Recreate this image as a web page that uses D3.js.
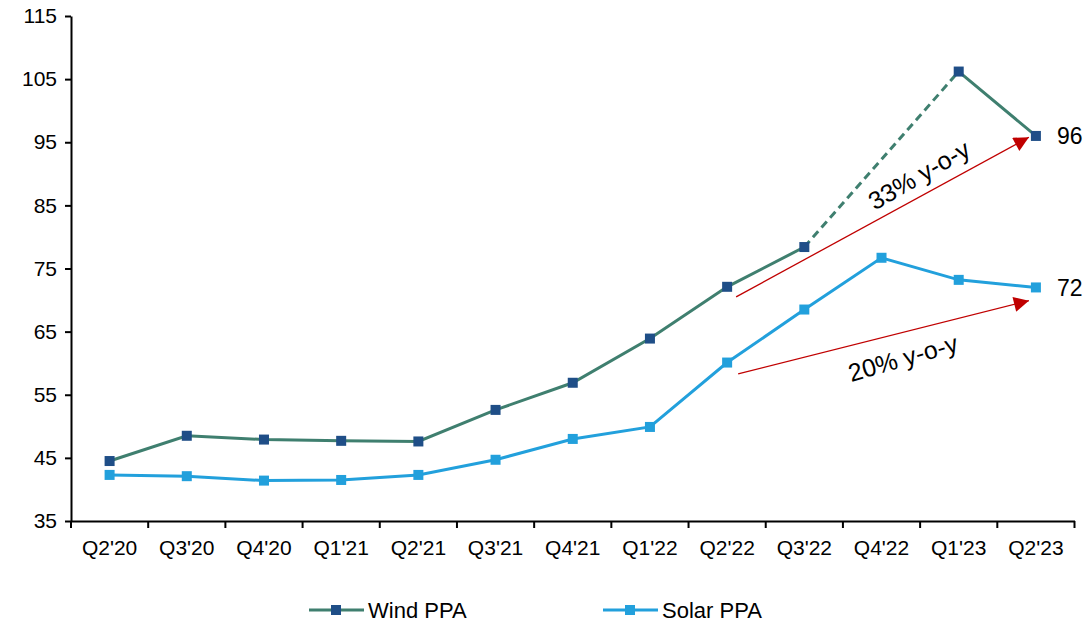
<!DOCTYPE html>
<html>
<head>
<meta charset="utf-8">
<script src="https://cdn.jsdelivr.net/npm/d3@7"></script>
<style>
  html, body { margin: 0; padding: 0; background: #fff; }
  svg { display: block; font-family: "Liberation Sans", Arial, sans-serif; }
</style>
</head>
<body>
<svg id="chart" width="1087" height="626"></svg>
<script>
// Quarterly PPA prices
const quarters = ["Q2'20","Q3'20","Q4'20","Q1'21","Q2'21","Q3'21","Q4'21","Q1'22","Q2'22","Q3'22","Q4'22","Q1'23","Q2'23"];
const windPPA  = [44.5, 48.5, 47.9, 47.7, 47.6, 52.6, 56.9, 63.9, 72.1, 78.4, null, 106.2, 96.0];
const solarPPA = [42.3, 42.1, 41.4, 41.5, 42.3, 44.7, 48.0, 49.9, 60.1, 68.5, 76.7, 73.2, 72.0];
const yTicks = [35, 45, 55, 65, 75, 85, 95, 105, 115];

// Year-on-year growth annotations (value space)
const growthNotes = [
  { label: "33% y-o-y", from: ["Q2'22", 70.5], to: ["Q2'23", 95.8], dxFrom: 9, dxTo: -7, text: [919, 175], angle: -30 },
  { label: "20% y-o-y", from: ["Q2'22", 58.3], to: ["Q2'23", 69.9], dxFrom: 11, dxTo: -7, text: [903, 358], angle: -16 }
];

const colors = { windLine: "#3f7f6f", windMark: "#1f4e87", solar: "#22a0dc", arrow: "#c00000" };

const svg = d3.select("#chart");
const m = { left: 71, right: 1074.5, top: 16, bottom: 521 };

const x = d3.scaleBand().domain(quarters).range([m.left, m.right]);
const cx = q => x(q) + x.bandwidth() / 2;
const y = d3.scaleLinear().domain([35, 115]).range([m.bottom, m.top]);

// Axes
const yAxis = svg.append("g").attr("transform", `translate(${m.left},0)`)
  .call(d3.axisLeft(y).tickValues(yTicks).tickSize(6).tickSizeOuter(0).tickPadding(8));
const xAxis = svg.append("g").attr("transform", `translate(0,${m.bottom})`)
  .call(d3.axisBottom(x).tickSize(0).tickPadding(19));
// boundary ticks between quarters
const bounds = quarters.map(q => x(q)).concat([m.right]);
xAxis.selectAll(".bound").data(bounds).enter().append("line")
  .attr("class", "bound").attr("x1", d => d).attr("x2", d => d)
  .attr("y1", 0).attr("y2", 7).attr("stroke", "#000").attr("stroke-width", 2);

[yAxis, xAxis].forEach(g => {
  g.select(".domain").attr("stroke", "#000").attr("stroke-width", 2);
  g.selectAll(".tick line").attr("stroke", "#000").attr("stroke-width", 2);
  g.selectAll(".tick text").attr("fill", "#000").attr("font-size", 21)
    .attr("font-family", "Liberation Sans, Arial, sans-serif");
});

// Series
const pts = vals => quarters.map((q, i) => ({ q, v: vals[i] }));
const line = d3.line().defined(d => d.v != null).x(d => cx(d.q)).y(d => y(d.v));

const wind = pts(windPPA), solar = pts(solarPPA);

// dashed bridge across missing wind quarter(s)
const gaps = [];
wind.forEach((d, i) => {
  if (d.v == null) {
    let a = i - 1; while (a >= 0 && wind[a].v == null) a--;
    let b = i + 1; while (b < wind.length && wind[b].v == null) b++;
    if (a >= 0 && b < wind.length && !gaps.some(g => g[0] === wind[a])) gaps.push([wind[a], wind[b]]);
  }
});
svg.selectAll(".bridge").data(gaps).enter().append("path")
  .attr("d", d => d3.line().x(p => cx(p.q)).y(p => y(p.v))(d))
  .attr("fill", "none").attr("stroke", colors.windLine).attr("stroke-width", 3)
  .attr("stroke-dasharray", "8,5");

svg.append("path").datum(wind).attr("d", line)
  .attr("fill", "none").attr("stroke", colors.windLine).attr("stroke-width", 3);
svg.append("path").datum(solar).attr("d", line)
  .attr("fill", "none").attr("stroke", colors.solar).attr("stroke-width", 3);

const ms = 10;
svg.selectAll(".wm").data(wind.filter(d => d.v != null)).enter().append("rect")
  .attr("x", d => cx(d.q) - ms / 2).attr("y", d => y(d.v) - ms / 2)
  .attr("width", ms).attr("height", ms).attr("fill", colors.windMark);
svg.selectAll(".sm").data(solar).enter().append("rect")
  .attr("x", d => cx(d.q) - ms / 2).attr("y", d => y(d.v) - ms / 2)
  .attr("width", ms).attr("height", ms).attr("fill", colors.solar);

// Last-value labels
const last = quarters[quarters.length - 1];
[[windPPA], [solarPPA]].forEach(([vals]) => {
  const v = vals[vals.length - 1];
  svg.append("text").attr("x", cx(last) + 21).attr("y", y(v))
    .attr("dy", "0.36em").attr("font-size", 23).attr("fill", "#000")
    .text(d3.format(".0f")(v));
});

// Growth arrows
svg.append("defs").append("marker")
  .attr("id", "arrowhead").attr("viewBox", "0 0 10 10")
  .attr("refX", 10).attr("refY", 5)
  .attr("markerUnits", "userSpaceOnUse").attr("markerWidth", 20).attr("markerHeight", 15)
  .attr("orient", "auto")
  .append("path").attr("d", "M0,0 L10,5 L0,10 Z").attr("fill", colors.arrow);

growthNotes.forEach(n => {
  svg.append("line")
    .attr("x1", cx(n.from[0]) + n.dxFrom).attr("y1", y(n.from[1]))
    .attr("x2", cx(n.to[0]) + n.dxTo).attr("y2", y(n.to[1]))
    .attr("stroke", colors.arrow).attr("stroke-width", 1.3)
    .attr("marker-end", "url(#arrowhead)");
  svg.append("text")
    .attr("transform", `translate(${n.text[0]},${n.text[1]}) rotate(${n.angle})`)
    .attr("text-anchor", "middle").attr("dy", "0.35em")
    .attr("font-size", 25).attr("fill", "#000").text(n.label);
});

// Legend
const legend = [
  { name: "Wind PPA", line: colors.windLine, mark: colors.windMark, x: 309 },
  { name: "Solar PPA", line: colors.solar, mark: colors.solar, x: 603 }
];
const lg = svg.selectAll(".lg").data(legend).enter().append("g")
  .attr("transform", d => `translate(${d.x},610)`);
lg.append("line").attr("x1", 0).attr("x2", 55).attr("stroke", d => d.line).attr("stroke-width", 3);
lg.append("rect").attr("x", 27 - ms / 2).attr("y", -ms / 2).attr("width", ms).attr("height", ms)
  .attr("fill", d => d.mark);
lg.append("text").attr("x", 59).attr("dy", "0.36em").attr("font-size", 22).attr("fill", "#000")
  .text(d => d.name);
</script>
</body>
</html>
